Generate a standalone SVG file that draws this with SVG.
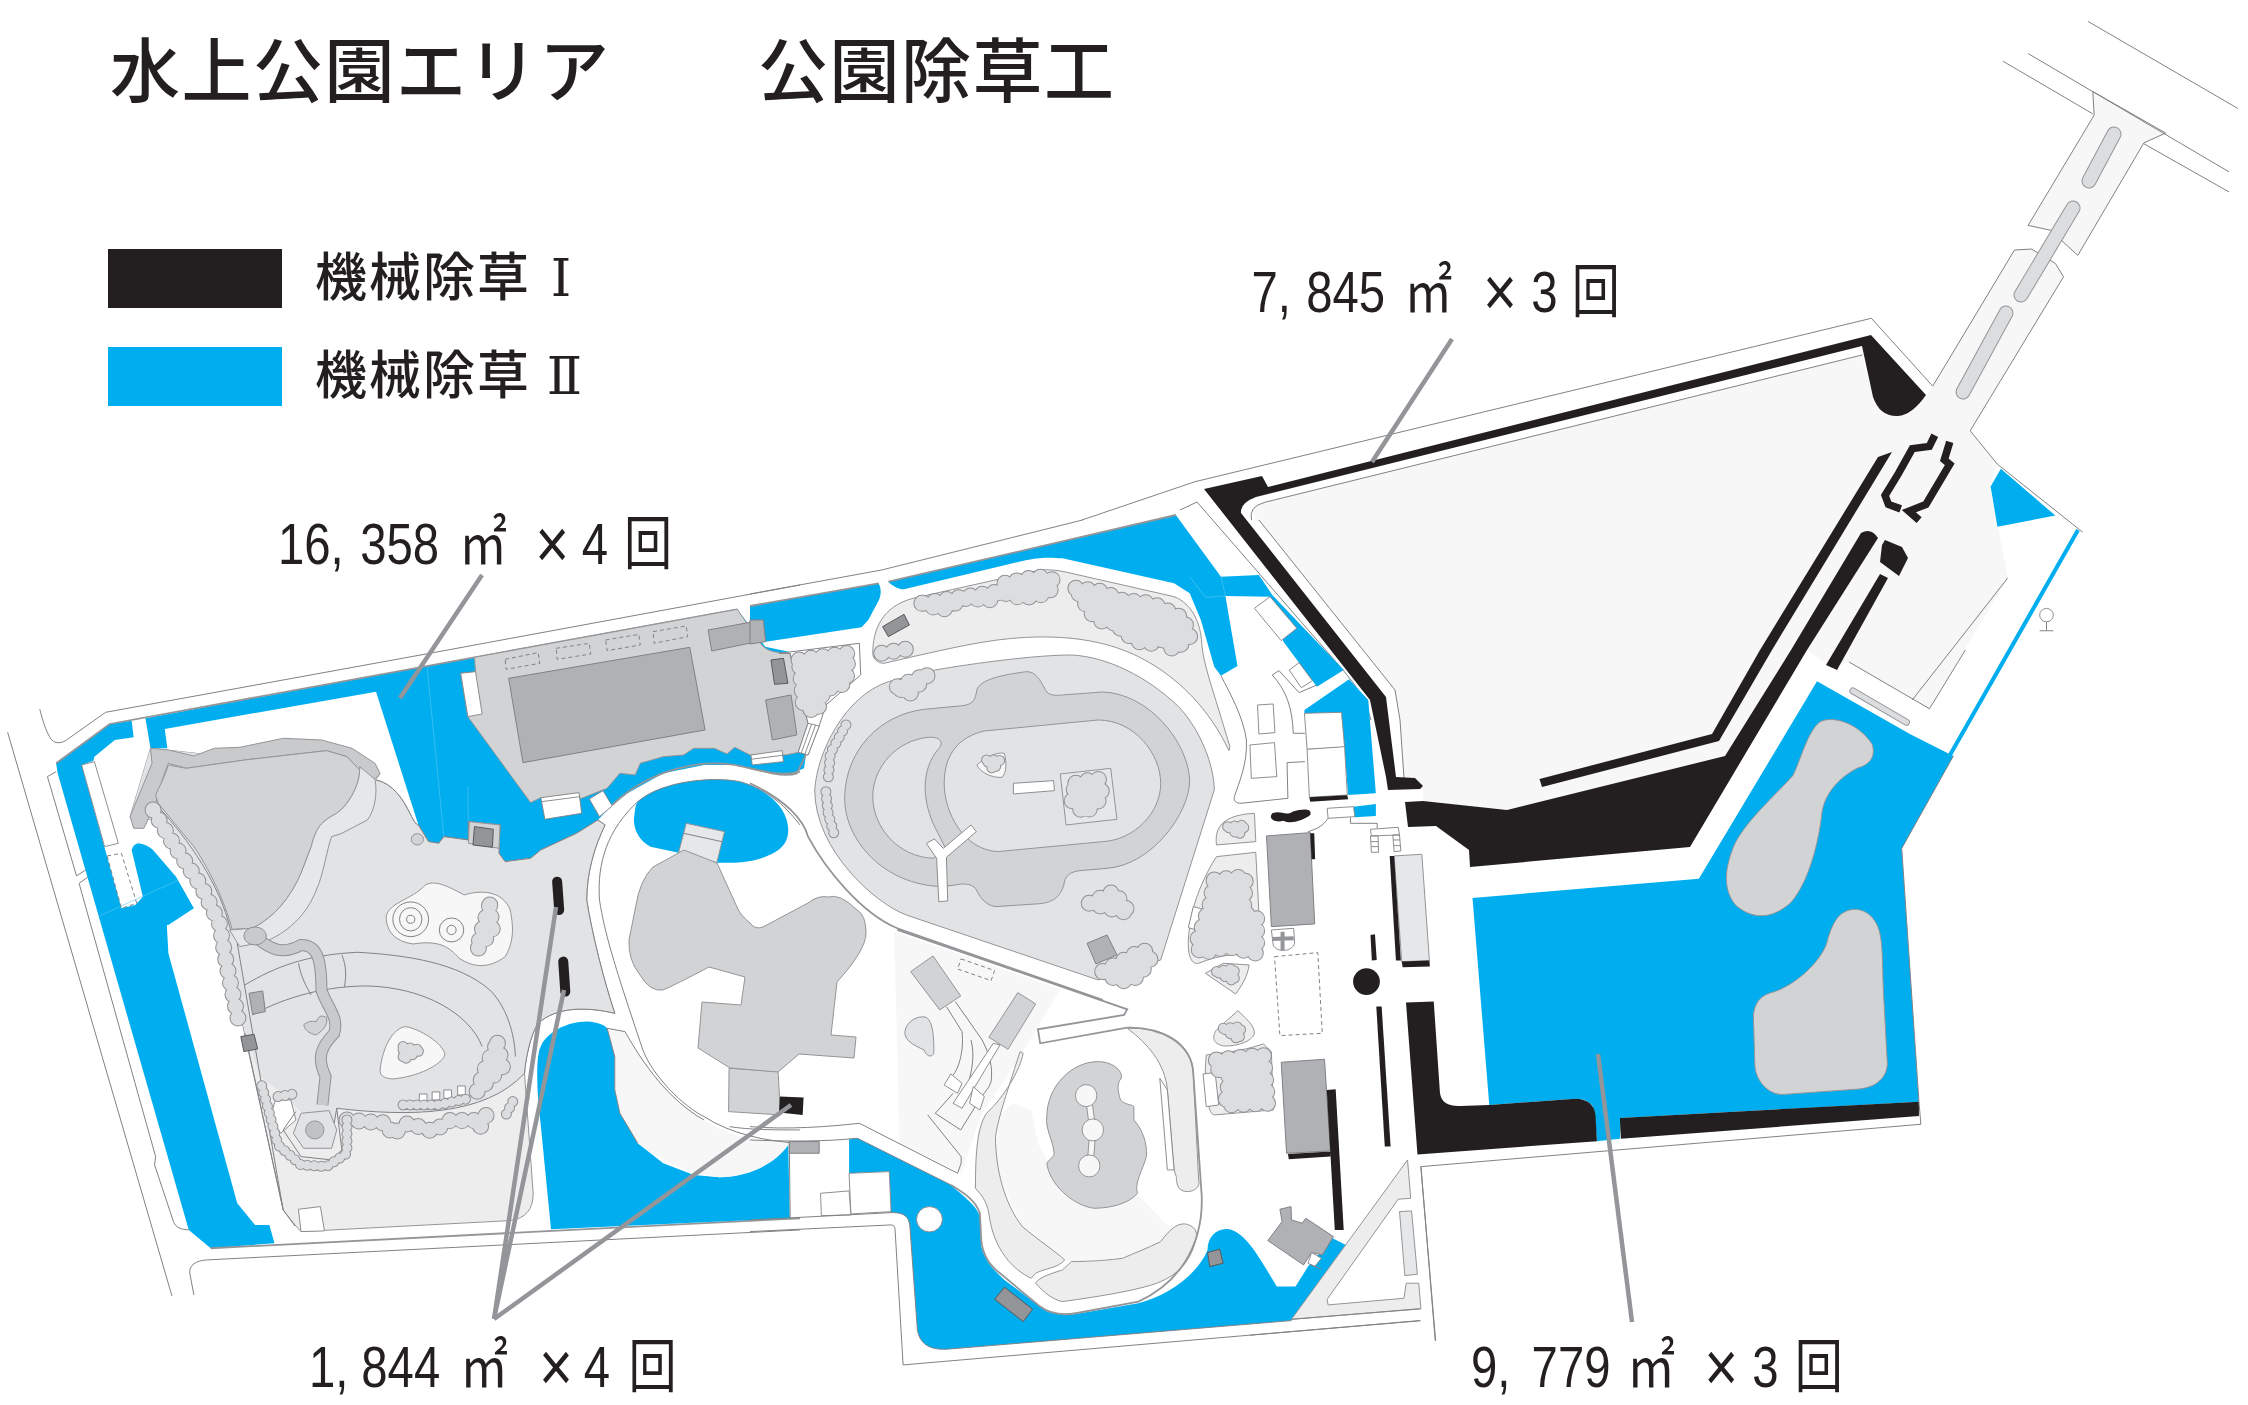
<svg xmlns="http://www.w3.org/2000/svg" xmlns:xlink="http://www.w3.org/1999/xlink" width="2248" height="1405" viewBox="0 0 2248 1405">
<style>
path,polygon,polyline,ellipse,line,rect{vector-effect:non-scaling-stroke}
.b{fill:#00AEEF;stroke:none}
.k{fill:#231F20;stroke:none}
.l{fill:none;stroke:#808285;stroke-width:1}
.lt{fill:none;stroke:#939598;stroke-width:1.8}
.w{fill:#fff;stroke:#808285;stroke-width:.9}
.g1{fill:#D1D3D4;stroke:#939598;stroke-width:1}
.g2{fill:#E1E3E5;stroke:#939598;stroke-width:1}
.g3{fill:#EDEDEE;stroke:#939598;stroke-width:1}
.g4{fill:#F7F7F7;stroke:#939598;stroke-width:1}
.g5{fill:#E6E7E8;stroke:#939598;stroke-width:1}
.d{fill:#B0B1B4;stroke:#808285;stroke-width:1}
.dd{fill:#939598;stroke:#58595B;stroke-width:1}
.ds{fill:none;stroke:#808285;stroke-width:1;stroke-dasharray:4 3}
.nf{fill:#F7F7F7;stroke:none}
.hb{fill:none;stroke:#5cc8f2;stroke-width:.6}
.tO{fill:none;stroke:#8f9194;stroke-width:17;stroke-linecap:round;stroke-linejoin:round;stroke-dasharray:0 12}
.tF{fill:#DCDDDE;stroke:#DCDDDE;stroke-width:15;stroke-linecap:round;stroke-linejoin:round;stroke-dasharray:0 12}
.sO{fill:none;stroke:#8f9194;stroke-width:11;stroke-linecap:round;stroke-linejoin:round;stroke-dasharray:0 7}
.sF{fill:#DCDDDE;stroke:#DCDDDE;stroke-width:9;stroke-linecap:round;stroke-linejoin:round;stroke-dasharray:0 7}
.pO{fill:none;stroke:#939598;stroke-linecap:round}
.pF{fill:none;stroke:#DCDDDE;stroke-linecap:round}
.t{font-family:"Noto Sans CJK JP","Liberation Sans",sans-serif;fill:#231F20;font-weight:500}
.r{font-family:"Liberation Serif","DejaVu Serif",serif;font-weight:400}
.n{font-family:"Liberation Sans","Noto Sans CJK JP",sans-serif;font-size:57px;fill:#231F20}
.n .c{font-family:"Noto Sans CJK JP",sans-serif;font-size:58px}
.n .x{font-size:70px}
.ld{stroke:#939598;stroke-width:4.500;fill:none}
</style>
<defs>
<g id="tW">
<path fill="none" d="M300,930 L335,1020 L395,1160 L430,1270 L445,1400 L470,1580"/>
<path d="M960,1215 L965,1290 L935,1350 L945,1290Z"/>
<path d="M975,1630 L985,1700 L935,1775 L955,1690Z"/>
<path fill="none" d="M680,1860 L760,1870 L768,1905 L800,1870 L850,1895 L880,1862 L930,1862 L940,1885 L955,1840"/>
</g>
<g id="tWs">
<path fill="none" d="M790,1815 L860,1815 L920,1795"/>
<path d="M790,1640 L825,1650 L790,1680Z"/>
<path fill="none" d="M1005,1805 L990,1850"/>
<path fill="none" d="M680,1860 L680,1960 L640,2000 L590,1995 L545,1935 L510,1740"/>
<path fill="none" d="M545,1790 L585,1780"/>
</g>
<g id="tC">
<path d="M385,250 L430,270 L480,235 L545,240 L570,190 L645,170 L680,180 L670,220 L610,235 L560,215Z"/>
<path d="M730,205 L790,215 L830,240 L900,250 L970,295 L985,350 L950,390 L925,360 L900,370 L870,365 L830,330 L830,310 L790,305 L765,280Z"/>
<path fill="none" d="M295,400 L360,385"/>
<path d="M110,420 L220,400 L215,490 L165,510 L150,575 L120,560 L115,480Z"/>
<path d="M330,500 L400,462 L355,525Z"/>
<path d="M730,790 L780,775 L790,830 L750,880 L720,840Z"/>
<path d="M760,1150 L815,1115 L850,1180Z"/>
<path d="M790,1355 L880,1290 L900,1310 L870,1370 L830,1385Z"/>
<path d="M1040,1080 L1110,1070 L1105,1180 L1135,1190 L1135,1300 L1070,1280 L1010,1300 L1000,1270 L1030,1160Z"/>
<g transform="translate(0,1230)"><path d="M1045,390 L1150,375 L1160,520 L1065,525 L1075,440 L1040,410Z"/></g>
</g>
<g id="tCs">
<path fill="none" d="M215,615 L180,700 L175,780"/>
<path fill="none" d="M170,815 L175,880 L190,950"/>
<path d="M1070,920 L1110,915 L1095,945Z"/>
<path d="M1045,1355 L1085,1345 L1085,1385Z"/>
<path d="M530,720 L560,720 L545,750Z"/>
<g transform="translate(0,1230)"><path d="M1060,295 L1100,290 L1095,330Z"/></g>
</g>
</defs>
<rect width="2248" height="1405" fill="#fff"/>

<g id="east-plaza">
<path class="nf" d="M1252,513 Q1250,506 1265,502 L1862,355 L1873,397 Q1885,417 1898,416 Q1915,412 1926,395 L1933,386 L1970,431 L1997,464 L1990,487 L2008,578 L1929,709 L1849,662 L1832,668 L1807,650 L1791,650 L1725,756 L1507,810 L1423,801 L1423,786 L1404,778 L1400,720 L1395,690Z"/>
<g transform="translate(1180,0) scale(.6812,.4464)">
<path class="nf" d="M1342,258 L1340,205 L1447,298 L1415,320 L1318,572 L1295,540 L1285,518 L1245,505Z"/>
<path class="nf" d="M1105,865 L1225,560 L1250,558 L1285,590 L1297,620 L1160,965 L1105,920Z"/>
<path class="l" d="M1105,865 L1225,560 L1250,558 L1285,590 L1297,620 L1160,965 L1200,1040 L1325,1192"/>
<path class="l" d="M1342,258 L1245,505 L1285,518 L1295,540 L1318,572 L1415,320 L1447,298 L1340,205 Z"/>
<path class="l" d="M1208,137 L1340,255 M1245,120 L1540,385 M1333,48 L1553,243 M1415,322 L1540,430"/>
<path class="l" d="M25,1078 L1015,713 L1105,865"/>
<path class="l" d="M105,1165 Q100,1135 125,1125 L1002,795"/>
<path class="l" d="M1215,1295 L1075,1568"/>
<path class="l" d="M1272,1393 L1272,1412 M1262,1413 H1282"/>
<ellipse class="w" cx="1272" cy="1378" rx="10" ry="15"/>
</g>
<g>
<line class="pO" x1="2114" y1="134" x2="2089" y2="181" stroke-width="15"/><line class="pF" x1="2114" y1="134" x2="2089" y2="181" stroke-width="13"/>
<line class="pO" x1="2073" y1="208" x2="2021" y2="295" stroke-width="15"/><line class="pF" x1="2073" y1="208" x2="2021" y2="295" stroke-width="13"/>
<line class="pO" x1="2006" y1="313" x2="1963" y2="392" stroke-width="15"/><line class="pF" x1="2006" y1="313" x2="1963" y2="392" stroke-width="13"/>
</g>
</g>

<g id="east-lines">
<path class="l" d="M1082,520 L1197,481"/>
<path class="l" d="M1180,510 L1197,502 L1343,670"/>
<path class="l" d="M1259,520 L1395,690 L1400,720 L1404,778"/>
<path class="l" d="M1343,670 Q1365,695 1371,720"/>
</g>

<g id="west" transform="translate(0,500) scale(.5102,.3333)">
<path class="b" d="M110,790 L215,672 L258,662 L262,712 L225,720 L185,770 L183,782 L160,795 L238,1225 L265,1215 L280,1190 L258,1050 Q262,1030 272,1030 Q290,1035 300,1050 L345,1130 L380,1225 L330,1275 L327,1275 L330,1360 L465,2110 L500,2175 L528,2175 L538,2230 L413,2245 L370,2190 L113,820Z"/>
<path class="b" d="M285,655 L930,472 L1445,328 L1500,440 L1560,460 L1580,760 L1576,805 L1545,825 L1530,825 L1440,795 L1380,795 L1300,820 L1230,880 L1200,915 L1172,960 L1130,1000 L1060,1050 L1040,1075 L990,1085 L978,1060 L980,975 L918,965 L918,1020 L870,1010 L860,1030 L840,1025 L820,975 L737,575 L323,687 L328,745 L295,745Z"/>
<path class="hb" d="M837,500 L870,1010 M917,860 L918,965 M195,1248 L350,1140"/>
<path class="b" d="M1250,905 C1300,840 1400,830 1450,845 C1510,870 1545,930 1545,990 C1545,1030 1530,1060 1480,1080 C1460,1088 1430,1090 1405,1088 L1330,1058 L1275,1040 C1250,1020 1240,980 1243,950 C1245,930 1245,915 1250,905Z"/>
<path class="l" d="M78,628 C85,670 90,690 97,710 C105,735 122,732 135,715 L207,637 L835,462 L1568,255"/>
<path class="l" d="M15,697 L337,2388"/>
<path class="l" d="M93,830 L110,815 M93,830 L150,1128 L168,1110 M155,1150 L172,1132 M155,1150 L305,1970 L303,1995 L340,2165 C345,2185 355,2188 370,2190"/>
<path class="l" d="M380,2385 L372,2320 C370,2295 385,2282 405,2280 L1568,2190"/>
<path class="lt" d="M110,790 L215,672 L930,472 L1445,328"/>
<path class="lt" d="M413,2245 L1568,2155"/>
<path class="lt" d="M1200,915 C1280,800 1380,780 1440,795 C1500,815 1530,830 1568,815"/>
<path class="w" style="stroke:#808285" d="M160,795 L185,785 L232,1030 L205,1040Z"/>
<path class="ds" d="M210,1068 L238,1060 L268,1210 L238,1225Z"/>

<path class="g3" d="M295,745 L745,820 L737,840 C770,850 790,900 800,930 C810,960 815,975 820,975 L840,1025 L860,1030 L870,1010 L918,1020 L918,965 L980,975 L978,1060 L990,1085 L1040,1075 L1060,1050 L1130,1000 L1172,960 L1186,975 C1165,1040 1150,1120 1150,1200 C1160,1300 1185,1450 1205,1540 C1150,1520 1090,1520 1055,1570 C1040,1600 1030,1680 1028,1720 L1045,2080 C1045,2130 1030,2155 1000,2162 L590,2195 L578,2175 L555,2130 L465,1500 L440,1300 L300,960 L255,950Z"/>
<path fill="#E1E3E5" d="M295,745 L745,820 L737,840 C770,850 790,900 800,930 C810,960 815,975 820,975 L840,1025 L860,1030 L870,1010 L918,1020 L918,965 L980,975 L978,1060 L990,1085 L1040,1075 L1060,1050 L1130,1000 L1172,960 L1186,975 C1165,1040 1150,1120 1150,1200 C1160,1300 1185,1450 1205,1540 C1150,1520 1090,1520 1055,1570 C1040,1600 1030,1680 1028,1720 C950,1850 800,1850 660,1825 L655,1870 L600,1850 L545,1770 L510,1730 L480,1600 L440,1300 L300,960 L255,950Z"/>
<path class="l" d="M820,975 L840,1025 L860,1030 L870,1010 L918,1020 L918,965 L980,975 L978,1060 L990,1085 L1040,1075 L1060,1050 L1130,1000 L1172,960 L1186,975 C1165,1040 1150,1120 1150,1200 C1160,1300 1185,1450 1205,1540 C1150,1520 1090,1520 1055,1570 C1040,1600 1030,1680 1028,1720"/>
<path class="l" d="M737,840 C770,850 790,900 800,930 C810,960 815,975 820,975"/>
<path class="l" d="M1028,1720 C950,1850 800,1850 660,1825 L655,1870"/>
<path class="l" d="M465,1330 L555,2130 L578,2178 M480,1600 L555,2130"/>
<path class="l" d="M1175,1200 C1170,1090 1190,990 1250,905 C1300,840 1400,830 1450,845 C1510,870 1545,930 1568,975"/>

<path fill="#C8CACC" stroke="#939598" d="M295,745 L330,750 L380,768 L420,745 L470,742 L555,715 L630,720 L690,745 L735,790 L745,820 L735,838 L705,810 L680,770 L640,752 L480,780 L365,805 L330,790 L320,830 L305,910 L282,985 L262,985 L255,950 L298,790Z"/>
<path class="g1" d="M330,795 L365,805 L480,780 L640,752 L680,770 L705,810 C705,860 680,920 660,940 C630,965 620,980 610,1040 L590,1120 C570,1190 540,1250 495,1285 L455,1288 C445,1230 420,1130 380,1040 L310,910 L305,885 L322,830Z"/>
<path class="g5" d="M705,800 L735,838 C740,880 735,930 720,960 L670,1000 L650,1010 C640,1050 635,1120 620,1170 C600,1250 560,1300 520,1325 L470,1340 L450,1290 L495,1285 C540,1250 570,1190 590,1120 L610,1040 C620,980 630,965 660,940 C680,920 705,860 705,810Z"/>
<path class="l" d="M310,920 C370,1020 430,1150 452,1290"/>
<ellipse cx="818" cy="1018" rx="12" ry="17" class="g1"/>
<path class="g1" d="M920,965 L980,975 L978,1045 L918,1030Z"/>
<path class="dd" d="M930,980 L967,988 L965,1042 L927,1035Z"/>

<path class="g1" d="M930,472 L1445,328 L1490,428 Q1500,455 1530,458 L1548,460 L1584,670 L1566,757 L1540,765 L1470,765 L1440,742 L1425,762 L1400,745 L1360,745 L1340,765 L1300,770 L1255,790 L1245,825 L1215,820 L1190,865 L1140,895 L1060,893 L1040,908 L917,650 L903,520 L932,515Z"/>
<path class="d" d="M997,535 L1352,442 L1382,690 L1025,788Z"/>
<path class="ds" d="M990,478 L1055,458 L1058,490 L992,508Z M1090,445 L1155,430 L1158,462 L1092,478Z M1187,420 L1252,403 L1255,435 L1190,452Z M1280,395 L1345,378 L1348,410 L1282,430Z"/>
<path class="d" d="M1388,390 L1495,360 L1500,420 L1395,453Z"/>
<path class="w" d="M903,520 L932,515 L945,642 L917,650Z"/>
<path class="w" d="M1060,893 L1135,878 L1140,940 L1068,958Z M1062,905 L1137,890"/>
<path class="w" d="M1155,897 L1182,872 L1200,918 L1175,950Z"/>
<path class="g4" d="M757,1250 C760,1210 810,1195 830,1160 C850,1130 890,1170 910,1185 C940,1170 985,1170 1000,1230 C1005,1270 1010,1320 990,1370 C960,1405 930,1405 900,1375 C880,1340 860,1320 810,1332 C775,1325 757,1295 757,1250Z"/>
<ellipse class="l" cx="805" cy="1258" rx="35" ry="52"/><ellipse class="l" cx="805" cy="1258" rx="22" ry="35"/><ellipse class="l" cx="805" cy="1258" rx="8" ry="12"/>
<ellipse class="l" cx="885" cy="1290" rx="24" ry="36"/><ellipse class="l" cx="885" cy="1290" rx="9" ry="14"/>

<g transform="translate(0,1200)">
<path class="l" d="M480,255 C540,200 600,165 700,157 C800,165 900,190 960,270 C1000,330 1010,430 1010,470 M495,345 C560,290 640,258 720,258 C830,262 920,340 945,440 M585,190 C590,230 600,260 610,285 M670,165 C680,200 678,235 675,262"/>
<path d="M500,110 C530,150 555,165 590,135 C620,135 630,170 630,270 C640,320 665,350 655,400 C630,440 620,470 638,530 L632,615" fill="none" stroke="#8f9194" stroke-width="12"/>
<path d="M500,110 C530,150 555,165 590,135 C620,135 630,170 630,270 C640,320 665,350 655,400 C630,440 620,470 638,530 L632,615" fill="none" stroke="#C8CACC" stroke-width="10"/>
<ellipse cx="500" cy="108" rx="22" ry="27" fill="#C8CACC" stroke="#8f9194"/>
<path class="d" d="M488,280 L515,273 L520,335 L495,343Z"/>
<path class="dd" d="M472,410 L498,403 L505,447 L478,455Z"/>
<path class="g1" d="M595,375 Q605,360 620,365 Q625,340 640,352 Q645,380 620,405 Q600,400 595,375Z"/>
<path class="g4" d="M745,510 C750,440 770,385 795,380 C820,385 870,430 872,465 C865,495 820,530 770,537 C750,535 745,525 745,510Z"/>
<path class="w" d="M822,582 H837 V605 H822Z M847,576 H862 V600 H847Z M870,570 H885 V595 H870Z M897,558 H912 V585 H897Z"/>
<path class="w" d="M585,928 L628,920 L636,993 L590,995Z"/>
<path class="w" d="M540,600 L570,600 L580,660 L550,700 L530,650Z"/>
<path class="g2" d="M590,640 L645,632 L660,690 L650,745 L595,745 L575,700Z"/>
<ellipse cx="617" cy="690" rx="18" ry="27" fill="#C0C2C4" stroke="#939598"/>
<path class="l" d="M580,635 L555,690 L590,770 L650,780 L670,750 L660,625"/>

<path class="b" d="M1055,600 C1050,500 1055,450 1060,440 C1070,400 1110,365 1150,365 C1170,367 1185,375 1190,385 L1205,470 L1205,570 L1215,640 L1250,730 L1300,790 L1360,825 L1410,832 C1470,830 1520,790 1545,735 L1548,955 L1080,988Z"/>
<path class="g4" style="stroke-width:0" d="M1190,385 L1225,395 C1260,490 1310,600 1380,660 C1440,715 1490,725 1545,730 C1520,790 1470,830 1410,832 C1360,825 1300,790 1250,730 L1215,640 L1205,570 L1205,470Z"/>
<path class="l" d="M1175,0 C1185,100 1205,200 1260,450 C1280,530 1340,620 1380,650 C1430,700 1500,725 1568,730"/>
<path class="l" d="M1190,385 L1225,395 C1260,490 1310,600 1380,660 M1430,680 C1470,690 1520,690 1568,690"/>
<path class="l" d="M1190,385 L1205,470 L1205,570 L1215,640 L1250,730"/>
<path class="g1" d="M1429,505 L1525,515 L1530,645 L1428,635Z"/>
</g>
<path class="g1" d="M1330,1058 L1345,970 L1420,995 L1405,1088Z" style="fill:#E6E7E8"/>
<path class="l" d="M1340,1000 L1415,1025"/>
<path d="M1092,1145 L1096,1230" stroke="#231F20" stroke-width="10" stroke-linecap="round" fill="none"/>
<path d="M1104,1385 L1108,1475" stroke="#231F20" stroke-width="10" stroke-linecap="round" fill="none"/>
<use href="#tW" class="tO"/><use href="#tW" class="tF"/>
<use href="#tWs" class="sO"/><use href="#tWs" class="sF"/>
</g>

<path id="island" class="g1" d="M684,850 L653,867 Q640,880 636,905 L629,940 Q628,960 640,975 Q650,992 663,990 Q675,985 709,967 L745,977 L741,1005 L702,1002 L698,1048 L730,1068 L778,1072 L799,1054 L854,1058 L856,1037 L831,1035 L837,982 Q866,950 866,933 Q866,915 857,910 Q840,893 828,897 Q818,895 808,903 L763,927 Q755,930 750,923 Q740,915 737,907 L717,863Z"/>

<g id="center" transform="translate(750,520) scale(.4464,.3333)">
<path class="b" d="M310,185 L954,-15 L1055,170 L1140,165 L1170,225 L1330,450 L1270,500 L1195,365 L1165,230 L1065,228 L1092,438 L1055,467 L1040,440 L1010,300 L985,220 L950,190 L700,115 C660,110 640,115 620,120 L345,208 C335,208 320,200 310,185Z"/>
<path class="b" d="M0,258 L288,190 C298,215 290,240 285,250 L265,300 L250,322 L35,365 L0,372Z"/>
<path class="b" d="M1242,570 L1342,478 L1385,540 L1402,820 L1340,825 L1325,578 L1242,585Z"/>
<path class="b" d="M1352,860 L1402,852 L1402,888 L1355,892Z"/>
<path class="hb" d="M1055,170 L1065,228 L1020,232 L985,170"/>
<path class="l" d="M0,222 L295,150 L745,0"/>
<path class="lt" d="M0,258 L288,190 M310,185 L954,-15"/>
<path class="d" d="M0,300 L30,300 L35,365 L0,372Z"/>

<path class="g3" d="M275,400 C275,330 295,260 365,235 L650,150 C670,148 690,150 720,160 L950,230 C990,250 1010,310 1012,370 C1015,430 1035,500 1075,680 L1073,692 C1030,570 960,470 870,410 C810,370 730,345 620,352 C530,358 450,385 365,410 L300,430 C285,430 275,415 275,400Z"/>
<path class="dd" d="M297,320 L345,283 L357,315 L310,350Z"/>

<path fill="#fff" stroke="#808285" d="M65,400 L245,370 L248,465 L170,555 L155,618 L130,705 L108,697 L130,610 L90,400Z"/>
<path class="dd" d="M47,420 L75,415 L85,490 L55,493Z"/>
<path class="d" d="M35,540 L92,525 L105,645 L50,660Z"/>
<path class="w" d="M2,705 L72,692 L75,725 L5,735Z M2,718 L73,706"/>
<path class="w" d="M130,610 L155,618 L130,705 L108,697Z M138,612 L115,699 M147,615 L123,702"/>
<path class="lt" d="M0,745 L50,760 Q85,770 105,760 L125,705"/>

<path class="g2" d="M145,810 C150,700 210,530 310,485 L415,450 C500,430 640,405 720,405 C800,410 890,470 960,560 C1010,630 1040,740 1040,810 L920,1320 L780,1380 L350,1185 C280,1150 145,990 145,810Z"/>
<path class="g1" d="M212,830 C215,690 290,585 390,568 L470,558 C500,555 505,540 508,510 C515,480 560,465 620,455 C640,455 650,480 660,505 C665,525 680,528 700,525 L790,516 C890,520 980,660 985,780 C985,880 900,1035 800,1045 L740,1052 C715,1055 705,1070 703,1095 C695,1130 680,1150 640,1152 L550,1160 C525,1155 515,1130 505,1105 C495,1090 475,1090 460,1095 L430,1100 C300,1095 210,960 212,830Z"/>
<path class="g2" d="M435,790 C435,700 470,650 525,633 L780,600 C860,600 920,700 920,790 C920,880 860,960 790,965 L555,995 C480,990 435,880 435,790Z"/>
<path class="g2" d="M275,830 C275,740 330,660 400,652 C430,650 435,670 420,690 C385,750 385,830 410,910 L440,990 L410,1015 C330,1010 275,920 275,830Z"/>
<path class="w" d="M395,970 L413,957 L433,985 L495,915 L507,935 L440,1012 L443,1143 L423,1145 L418,1015Z"/>
<path class="w" d="M590,790 L680,782 L682,812 L590,822Z"/>
<path class="g5" d="M695,762 L808,745 L822,898 L708,915Z"/>
<path class="g4" d="M508,735 C530,710 555,695 570,700 C575,730 575,755 565,772 C540,775 515,755 508,735Z"/>
<path class="d" d="M755,1270 L800,1245 L822,1305 L775,1332Z"/>

<path class="lt" d="M0,790 C80,840 120,900 130,950 C170,1050 250,1180 330,1225 L790,1440"/>

<path class="l" d="M1170,465 L1185,452 L1230,518 L1270,495 M1170,465 C1200,510 1215,560 1217,640 L1243,640"/>
<path class="w" d="M1208,450 L1230,428 L1260,482 L1235,503Z"/>
<path class="w" d="M1130,265 L1165,230 L1225,325 L1190,362Z"/>
<path class="w" d="M1137,555 L1172,552 L1176,638 L1140,642Z"/>
<path class="w" d="M1120,675 L1175,668 L1180,770 L1123,775Z"/>
<path class="l" d="M1243,725 L1203,728 L1205,835 L1100,850 C1090,850 1083,845 1085,830 C1095,790 1115,730 1112,660 C1105,590 1075,520 1055,467"/>
<path class="w" d="M1242,580 L1325,577 L1332,682 L1248,688Z"/>
<path class="w" d="M1248,688 L1332,680 L1338,825 L1253,832Z"/>
<path class="k" d="M1253,832 L1338,826 L1340,838 L1255,845Z"/>
<path class="k" d="M1170,880 C1190,870 1200,890 1215,875 C1240,865 1260,865 1255,885 C1235,905 1210,912 1195,902 C1175,910 1160,895 1170,880Z"/>
<path class="w" d="M1293,865 L1352,860 L1355,890 L1295,895Z"/>
<path class="l" d="M1295,895 C1285,915 1275,925 1250,935 M1345,893 L1345,910 L1405,910 L1405,925"/>
<path class="w" d="M1390,928 L1452,922 L1455,945 L1392,948Z M1390,948 L1407,948 L1408,997 L1392,997Z M1440,945 L1455,945 L1458,993 L1443,995Z M1391,965 H1407 M1392,980 H1408 M1441,960 H1456 M1442,977 H1457"/>
<path class="d" d="M1157,948 L1255,938 L1265,1212 L1168,1220Z"/>
<path class="k" d="M1255,940 L1264,940 L1266,1018 L1258,1018Z"/>
<path class="w" d="M1168,1230 L1218,1225 L1220,1270 C1215,1295 1180,1300 1172,1275Z"/>
<path d="M1193,1235 L1193,1290 M1170,1257 L1218,1255" stroke="#939598" stroke-width="4" fill="none"/>
<path class="g5" d="M1443,1008 L1505,1003 L1522,1322 L1460,1325Z"/>
<path class="k" d="M1433,1008 L1443,1008 L1458,1322 L1447,1322Z M1460,1325 L1522,1322 L1523,1340 L1462,1342Z M1390,1245 L1400,1243 L1404,1320 L1393,1322Z"/>
<ellipse class="k" cx="1381" cy="1385" rx="30" ry="40"/>
<path class="g3" d="M1045,975 C1040,920 1060,885 1130,880 L1133,965Z"/>
<path class="g3" d="M1045,1010 L1133,997 L1145,1310 C1100,1300 1060,1300 1005,1330 C990,1335 975,1310 985,1220 C990,1150 1020,1060 1045,1010Z"/>
<path class="w" d="M993,1160 L1013,1167 L1000,1230 L982,1223Z"/>
<path class="g3" d="M1020,1360 L1060,1330 L1118,1335 C1115,1370 1100,1400 1088,1422Z"/>

<g transform="translate(0,1230)">
<path class="b" d="M222,628 L242,625 L450,765 C480,800 510,830 515,860 L518,950 C525,990 545,1020 570,1050 L660,1140 C680,1155 710,1155 730,1152 L870,1120 C930,1100 1000,1040 1025,960 C1025,920 1045,895 1070,897 C1110,905 1140,980 1180,1070 L1222,1070 L1250,1010 L1305,925 L1335,945 L1213,1172 L440,1258 C400,1260 380,1240 375,1200 L358,885 C355,860 345,848 318,848 L316,847 L312,725 L222,730Z"/>
<path class="nf" d="M323,5 L695,178 L610,370 L515,560 L475,730 L335,640Z"/>
<path class="nf" d="M865,790 L945,900 L920,935 L835,985 L720,995 L705,990 L610,890 L550,720 L555,560 L590,520 L630,540 L645,640 L670,700Z"/>
<path class="l" d="M0,630 C80,635 170,635 240,625 L450,765"/>
<path class="l" d="M0,590 C80,600 180,590 245,580 L465,730 L473,700 L473,680 L398,555"/>
<path class="lt" d="M330,0 L845,238 L838,255 L645,298 L650,340 L845,293"/>
<path class="g1" d="M360,125 L410,78 L472,198 L425,240Z"/>
<path class="g1" d="M600,188 L640,222 L578,358 L535,322Z"/>
<path class="l" d="M460,215 L520,330 C535,370 545,410 540,455 C535,480 520,490 500,540 L472,600 L415,550 L455,490 M440,230 L475,305 C480,370 465,420 455,435 M495,330 C505,380 495,430 490,455"/>
<path class="w" d="M545,340 L560,345 L475,535 L455,520Z"/>
<path class="w" d="M450,432 L475,460 L465,490 L435,465Z M500,470 L525,500 L515,540 L492,520Z"/>
<path class="g2" d="M347,305 C350,275 375,255 395,262 C410,275 412,320 412,370 C405,385 395,378 390,360 C365,345 345,330 347,305Z"/>
<path class="ds" d="M473,87 L548,122 L540,152 L465,117Z"/>
<path class="g3" d="M605,365 L612,370 C605,420 570,500 530,550 C510,590 505,660 505,775 C515,790 530,810 535,850 C545,960 590,1020 630,1045 L640,1030 C660,1015 690,1015 705,990 C680,960 650,935 610,890 C570,820 550,720 550,620 C555,570 570,510 605,365Z"/>
<path class="g3" d="M845,295 C930,290 990,340 993,430 L1005,750 C1010,770 995,785 980,785 C960,785 955,765 955,740 L950,720 L935,480 C930,400 890,340 845,295Z"/>
<path class="w" d="M918,445 L935,480 L950,720 L935,720Z"/>
<path class="g3" d="M720,995 C760,995 810,990 835,985 C860,970 890,955 920,935 C940,900 955,880 975,882 C990,885 1003,900 1000,920 C990,990 960,1040 900,1065 C850,1085 780,1100 700,1115 C680,1110 660,1090 640,1060 C645,1045 665,1035 700,1020Z"/>
<path class="lt" d="M845,293 C920,290 990,340 993,430 L1012,800 C1015,950 960,1060 870,1115 L730,1150 C700,1157 670,1150 650,1130 L560,1030 C530,1000 520,960 518,930 L515,850 C505,810 480,790 450,765"/>
<path class="g1" d="M665,560 C665,470 720,395 780,395 C810,395 835,420 832,445 C820,460 825,490 830,510 C840,525 860,525 860,530 L860,570 C880,600 890,640 888,680 C880,720 860,760 868,790 C850,820 810,835 770,835 C720,825 670,760 665,700 C675,680 685,680 680,660 C680,640 660,590 665,560Z"/>
<path d="M758,500 L768,600 L762,705" stroke="#939598" stroke-width="7" fill="none"/>
<path d="M758,500 L768,600 L762,705" stroke="#F7F7F7" stroke-width="5" fill="none"/>
<ellipse class="g4" cx="753" cy="497" rx="24" ry="33"/><ellipse class="g4" cx="768" cy="600" rx="24" ry="33"/><ellipse class="g4" cx="760" cy="708" rx="24" ry="33"/>
<path class="l" d="M1503,710 L1535,1232"/>
<ellipse class="w" cx="402" cy="868" rx="29" ry="38"/>
<path class="w" d="M222,730 L312,725 L316,845 L226,852Z"/>
<path class="w" d="M158,790 L222,783 L226,855 L160,857Z"/>
<path class="d" d="M88,635 L155,635 L155,670 L88,670Z"/>
<path class="k" d="M67,500 L120,503 L118,555 L65,548Z"/>
<path class="dd" d="M1025,968 L1052,958 L1060,1000 L1030,1010Z"/>
<path class="dd" d="M570,1072 L633,1138 L612,1175 L548,1108Z"/>
<path class="l" d="M88,635 L90,865 M0,870 L318,848 C345,848 355,860 358,885 L375,1200 C380,1240 400,1260 440,1258 L1213,1172 M0,905 L315,885 C322,885 325,890 325,900 L343,1305 L1500,1172"/>
<path class="ds" d="M1175,80 L1272,68 L1282,310 L1187,317Z"/>
<path class="g3" d="M1093,242 C1110,265 1130,285 1130,310 C1125,335 1090,350 1060,348 C1035,340 1035,320 1045,300Z"/>
<path class="g3" d="M1022,375 C1050,370 1100,365 1150,342 L1168,365 L1172,540 L1040,555 C1030,550 1025,540 1020,420Z"/>
<path class="w" d="M1015,432 L1042,428 L1050,525 L1022,530Z"/>
<path class="k" d="M1403,230 L1415,230 L1435,650 L1422,650Z"/>
<path class="d" d="M1190,397 L1287,388 L1300,663 L1202,670Z"/>
<path class="k" d="M1205,672 L1300,665 L1300,680 L1207,688Z M1292,480 L1312,478 L1330,900 L1310,900Z"/>
<path class="d" d="M1187,838 L1212,830 L1213,870 L1237,880 L1245,865 L1307,920 L1282,975 L1258,968 L1240,1005 L1160,932 L1192,875Z"/>
<path class="w" d="M1258,968 L1280,985 L1265,1010 L1250,1000Z"/>
<path class="l" d="M1255,1003 L1280,1018"/>
<path class="g3" d="M1473,690 L1480,805 L1452,808 L1293,1108 L1295,1125 L1465,1105 L1470,1060 L1498,1060 L1503,1137 L1213,1168Z"/>
<path class="g5" d="M1455,845 L1482,843 L1495,1033 L1467,1037Z"/>
</g>
<use href="#tC" class="tO"/><use href="#tC" class="tF"/>
<use href="#tCs" class="sO"/><use href="#tCs" class="sF"/>
</g>

<g id="east-black">
<path class="k" d="M1204,489 L1262,476 L1268,487 L1871,335 L1926,395 Q1912,415 1898,416 Q1880,417 1873,397 L1862,346 L1256,497 Q1240,503 1241,513 L1386,697 L1396,777 L1415,778 L1423,786 L1420,789 L1388,790 L1386,777 L1370,700 L1204,489Z"/>
<path class="k" d="M1405,802 L1423,801 L1507,810 L1725,756 L1791,650 L1861,533 Q1871,527 1878,538 L1807,650 L1690,847 L1470,867 L1469,850 L1436,826 L1408,827Z"/>
<path class="k" d="M1539.500,779 L1712,734 L1760,650 L1878,457 L1892,452 L1772,650 L1719,741 L1542,787Z"/>
<path class="k" d="M1885,540 L1902,547 L1908,558 L1899,576 L1880,562 L1882,545Z"/>
<path class="k" d="M1880,574 L1888,578 L1837,670 L1826,665Z"/>
<g transform="translate(1180,0) scale(.6812,.4464)">
<path d="M1108,975 L1100,1000 L1075,1005 L1055,1060 L1035,1110 L1040,1130 L1058,1140 M1130,990 L1122,1030 L1130,1040 L1095,1130 L1070,1145 L1085,1165" fill="none" stroke="#231F20" stroke-width="7.500"/>
<path class="b" d="M1205,1050 L1285,1155 L1200,1180 L1190,1090Z"/>
</g>
<path d="M2078,530 L1950,755" stroke="#00AEEF" stroke-width="4" fill="none"/>
</g>

<g id="east-lawn" transform="translate(1250,650) scale(.4785,.4815)">
<path class="b" d="M1185,65 L1380,175 L1470,220 L1362,412 L1398,938 L775,972 L773,1015 L725,1020 L720,960 C718,940 700,932 680,932 L500,945 L465,515 L938,475Z"/>
<path class="k" d="M326,732 L384,730 L397,920 C400,940 415,948 440,947 L500,945 L680,932 C705,932 720,945 722,965 L725,1020 L350,1048Z"/>
<path class="k" d="M773,972 L1398,938 L1398,968 L775,1015Z"/>
<path class="l" d="M1470,220 L1362,412 L1398,938 L1402,985 L357,1073 L388,1435 M0,1423 L357,1393 M88,1390 L355,1368"/>
<path class="g1" d="M1190,150 C1215,135 1270,150 1300,195 C1310,225 1290,240 1270,245 C1230,265 1200,300 1195,340 C1190,390 1170,480 1130,525 C1090,560 1050,560 1015,530 C990,500 990,460 1010,410 C1030,360 1100,300 1135,260 C1150,230 1165,170 1190,150Z"/>
<path class="g1" d="M1225,560 C1245,530 1290,530 1310,570 C1325,600 1320,650 1325,730 L1332,860 C1330,895 1300,910 1270,912 L1115,923 C1080,925 1055,890 1055,860 L1052,760 C1055,725 1075,715 1095,710 C1140,695 1190,650 1205,610 C1210,590 1215,575 1225,560Z"/>
<line class="pO" x1="1260" y1="85" x2="1372" y2="150" stroke-width="7"/><line class="pF" x1="1260" y1="85" x2="1372" y2="150" stroke-width="5"/>
<path class="l" d="M1252,25 L1420,122 L1495,0"/>
</g>

<g id="connectors">
<line class="ld" x1="482" y1="575" x2="400" y2="698"/>
<line class="ld" x1="1452" y1="339" x2="1372" y2="462"/>
<path class="ld" d="M556,907 L494,1319 L564,990 M494,1319 L791,1105"/>
<line class="ld" x1="1598" y1="1054" x2="1632" y2="1322"/>
</g>

<g id="legend">
<rect x="108" y="249" width="174" height="59" fill="#231F20"/>
<rect x="108" y="347" width="174" height="59" fill="#00AEEF"/>
<text class="t" x="315" y="296" font-size="52" letter-spacing="2">機械除草 <tspan class="r" dx="6">Ⅰ</tspan></text>
<text class="t" x="315" y="394" font-size="52" letter-spacing="2">機械除草 <tspan class="r" dx="2">Ⅱ</tspan></text>
</g>
<g id="labels">
<text class="t" x="110" y="97" font-size="70" letter-spacing="1.500">水上公園エリア<tspan x="758">公園除草工</tspan></text>
<text class="n" transform="translate(278,564) scale(.83,1)">16, <tspan x="99">358</tspan> <tspan class="c" x="218">㎡</tspan> <tspan class="x" x="310" dy="4">×</tspan><tspan x="366" dy="-4">4</tspan> <tspan class="c" x="417">回</tspan></text>
<text class="n" transform="translate(309,1387) scale(.83,1)">1, <tspan x="63">844</tspan> <tspan class="c" x="182">㎡</tspan> <tspan class="x" x="277" dy="4">×</tspan><tspan x="331" dy="-4">4</tspan> <tspan class="c" x="385">回</tspan></text>
<text class="n" transform="translate(1251.500,312) scale(.83,1)">7, <tspan x="66">845</tspan> <tspan class="c" x="184">㎡</tspan> <tspan class="x" x="279" dy="4">×</tspan><tspan x="337" dy="-4">3</tspan> <tspan class="c" x="386">回</tspan></text>
<text class="n" transform="translate(1471,1387) scale(.83,1)">9, <tspan x="73">779</tspan> <tspan class="c" x="188">㎡</tspan> <tspan class="x" x="281" dy="4">×</tspan><tspan x="339" dy="-4">3</tspan> <tspan class="c" x="390">回</tspan></text>
</g>
</svg>
